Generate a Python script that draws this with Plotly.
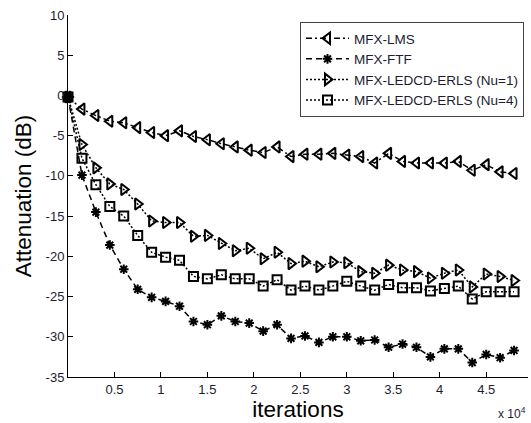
import plotly.graph_objects as go

iterations = [i * 1500 for i in range(33)]

lms = [-0.2, -1.7, -2.5, -3.2, -3.4, -4.0, -4.6, -5.0, -4.4, -5.1, -5.5, -6.0, -6.4, -6.8, -7.1,
       -6.4, -7.6, -7.3, -7.3, -7.2, -7.4, -7.6, -8.4, -7.2, -8.2, -8.4, -8.4, -8.4, -8.2, -9.3,
       -8.6, -9.5, -9.7]
ftf = [-0.2, -9.9, -14.5, -18.6, -21.6, -24.1, -25.1, -25.6, -26.2, -28.1, -28.5, -27.4, -28.1,
       -28.3, -29.3, -28.5, -30.2, -29.9, -30.7, -30.0, -30.0, -30.5, -30.4, -31.3, -30.9, -31.3,
       -32.5, -31.5, -31.5, -33.2, -32.2, -32.6, -31.7]
nu1 = [-0.2, -6.1, -9.0, -11.0, -11.7, -13.5, -15.6, -15.8, -15.8, -17.5, -17.4, -18.4, -19.3,
       -19.0, -20.3, -19.5, -20.9, -20.6, -21.3, -20.7, -20.8, -21.9, -22.1, -21.1, -21.7, -21.9,
       -22.7, -22.1, -21.7, -23.8, -22.2, -22.5, -23.0]
nu4 = [-0.2, -7.8, -11.1, -13.8, -15.0, -17.4, -19.5, -20.1, -20.5, -22.5, -22.8, -22.3, -22.8,
       -22.8, -23.7, -22.9, -24.2, -23.7, -24.2, -23.7, -23.1, -23.7, -24.2, -23.5, -23.9, -23.9,
       -24.3, -24.0, -23.7, -25.3, -24.4, -24.4, -24.4]

names = ["MFX-LMS", "MFX-FTF", "MFX-LEDCD-ERLS (Nu=1)", "MFX-LEDCD-ERLS (Nu=4)"]

x_tickvals = [5000, 10000, 15000, 20000, 25000, 30000, 35000, 40000, 45000]
x_ticktext = ["0.5", "1", "1.5", "2", "2.5", "3", "3.5", "4", "4.5"]
y_tickvals = [-35, -30, -25, -20, -15, -10, -5, 0, 5, 10]
y_ticktext = ["-35", "-30", "-25", "-20", "-15", "-10", "-5", "0", "5", "10"]

FONT = "Liberation Sans, Arial, sans-serif"
TEXT = "#1c1c30"

styles = [
    dict(dash="6px,3px,2px,3px", symbol="triangle-left-open", size=10),
    dict(dash="6px,4px", symbol="asterisk-open", size=8),
    dict(dash="2px,2px", symbol="triangle-right-open", size=10),
    dict(dash="2px,2px", symbol="square-open", size=9),
]

fig = go.Figure()
for ys, name, st in zip([lms, ftf, nu1, nu4], names, styles):
    fig.add_trace(go.Scatter(
        x=iterations, y=ys, name=name, mode="lines+markers",
        line=dict(color="black", width=1.5, dash=st["dash"]),
        marker=dict(symbol=st["symbol"], size=st["size"], color="black",
                    line=dict(color="black", width=2)),
        cliponaxis=False,
    ))

fig.update_layout(
    width=531, height=423,
    margin=dict(l=68, r=3, t=15, b=46),
    paper_bgcolor="white", plot_bgcolor="white",
    font=dict(family=FONT, size=13, color=TEXT),
    showlegend=True,
    legend=dict(
        x=(524 - 68) / 460, xanchor="right", y=1 - (22 - 15) / 362, yanchor="top",
        bordercolor="#444444", borderwidth=1, bgcolor="white",
        font=dict(family=FONT, size=13.5, color=TEXT),
        itemwidth=43, tracegroupgap=0,
    ),
    xaxis=dict(
        range=[0, 49500], tickvals=x_tickvals, ticktext=x_ticktext,
        showgrid=False, zeroline=False, showline=True, linecolor="black", linewidth=1,
        ticks="inside", ticklen=5, tickcolor="black", mirror=False,
        tickfont=dict(family=FONT, size=13, color=TEXT),
        title=dict(text="iterations", font=dict(family=FONT, size=22.5, color="black"), standoff=5),
    ),
    yaxis=dict(
        range=[-35, 10], tickvals=y_tickvals, ticktext=y_ticktext,
        showgrid=False, zeroline=False, showline=True, linecolor="black", linewidth=1,
        ticks="inside", ticklen=5, tickcolor="black", mirror=False,
        tickfont=dict(family=FONT, size=13, color=TEXT),
        title=dict(text="Attenuation (dB)", font=dict(family=FONT, size=22.5, color="black"), standoff=7),
    ),
    annotations=[dict(
        text="x 10<sup>4</sup>", xref="paper", yref="paper",
        x=(528 - 68) / 460, y=-(413 - 377) / 362, xanchor="right", yanchor="middle",
        showarrow=False, font=dict(family=FONT, size=12, color=TEXT),
    )],
)

fig.write_html("out.html", config={"displayModeBar": False})

with open("out.html", "r", encoding="utf-8") as f:
    html = f.read()
html = html.replace("<head>", "<head><style>html,body{margin:0;padding:0;overflow:hidden;}</style>", 1)
with open("out.html", "w", encoding="utf-8") as f:
    f.write(html)
